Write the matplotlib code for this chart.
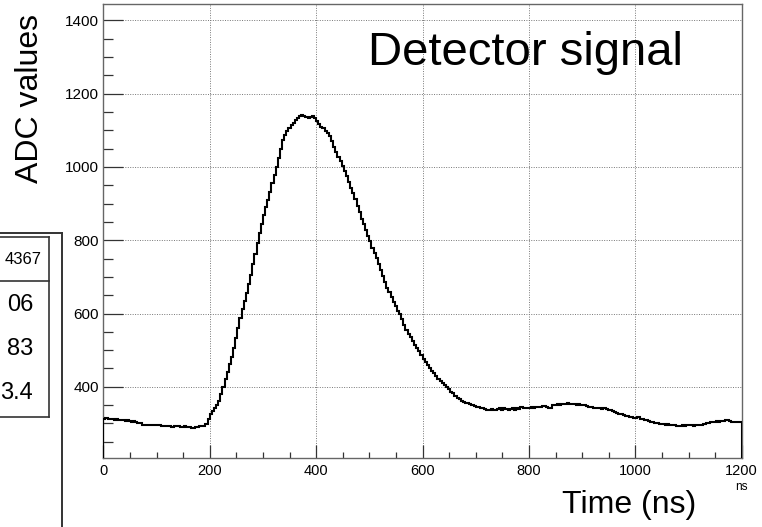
import numpy as np
import matplotlib
matplotlib.use("Agg")
import matplotlib.pyplot as plt
from matplotlib.ticker import MultipleLocator, FixedLocator
from matplotlib.lines import Line2D

# ---------------- data ----------------
adc_values = [
    313, 314, 312, 311, 312, 310, 311, 309, 310, 308,
    307, 308, 306, 305, 306, 303, 302, 300, 296, 297,
    295, 296, 297, 296, 297, 295, 296, 294, 293, 294,
    292, 293, 291, 294, 293, 292, 291, 290, 292, 290,
    289, 287, 288, 290, 291, 292, 292, 294, 299, 313,
    327, 335, 341, 350, 362, 380, 400, 420, 441, 461,
    481, 505, 532, 560, 588, 612, 633, 656, 680, 705,
    735, 763, 793, 820, 845, 868, 890, 910, 932, 955,
    978, 1000, 1025, 1050, 1073, 1088, 1098, 1106, 1114, 1120,
    1128, 1135, 1140, 1141, 1139, 1137, 1135, 1136, 1139, 1133,
    1125, 1117, 1110, 1105, 1099, 1093, 1084, 1070, 1055, 1040,
    1028, 1015, 1002, 990, 975, 958, 943, 928, 912, 893,
    876, 858, 843, 828, 812, 797, 780, 764, 752, 735,
    720, 702, 686, 670, 658, 645, 632, 620, 608, 598,
    585, 568, 555, 545, 535, 524, 514, 506, 497, 487,
    477, 468, 460, 452, 444, 438, 430, 422, 416, 410,
    405, 399, 393, 387, 382, 376, 370, 366, 362, 359,
    357, 356, 354, 351, 348, 346, 344, 342, 341, 339,
    338, 337, 339, 337, 338, 340, 341, 338, 343, 340,
    336, 339, 341, 338, 342, 339, 344, 341, 343, 342,
    343, 344, 342, 345, 346, 345, 348, 347, 346, 341,
    342, 350, 351, 352, 350, 353, 352, 354, 355, 354,
    352, 353, 351, 352, 350, 349, 350, 348, 345, 344,
    343, 342, 343, 341, 340, 341, 339, 338, 336, 334,
    332, 329, 327, 326, 323, 321, 319, 318, 317, 316,
    314, 318, 313, 311, 310, 308, 306, 304, 303, 302,
    300, 299, 298, 299, 297, 298, 296, 297, 295, 294,
    294, 293, 295, 294, 296, 295, 297, 294, 296, 297,
    296, 295, 298, 300, 301, 303, 305, 304, 306, 305,
    307, 306, 308, 309, 306, 304, 305, 303, 304, 303,
]
time_range = (0, 1200)
y_range = (207, 1444)
x_tick_values = [0, 200, 400, 600, 800, 1000, 1200]
y_tick_values = [400, 600, 800, 1000, 1200, 1400]
stats_header = "4367"
stats_values = ["06", "83", "3.4"]

title_text = "Detector signal"
x_title = "Time (ns)"
y_title = "ADC values"
x_unit = "ns"

# ---------------- figure ----------------
W, H = 762, 527
plt.rcParams['font.family'] = ['Liberation Sans', 'DejaVu Sans']
fig = plt.figure(figsize=(W / 100, H / 100), dpi=100)

def fx(px):
    return px / W

def fy(py):
    return 1 - py / H

ax_l, ax_r, ax_t, ax_b = 103.3, 741.7, 4.3, 457.5
ax = fig.add_axes([fx(ax_l), fy(ax_b), fx(ax_r - ax_l), (ax_b - ax_t) / H])

edges = np.linspace(time_range[0], time_range[1], len(adc_values) + 1)
ax.stairs(adc_values, edges, color='black', lw=1.5, zorder=3)

ax.set_xlim(*time_range)
ax.set_ylim(*y_range)

ax.xaxis.set_major_locator(FixedLocator(x_tick_values))
ax.yaxis.set_major_locator(FixedLocator(y_tick_values))
ax.xaxis.set_minor_locator(MultipleLocator(50))
ax.yaxis.set_minor_locator(MultipleLocator(50))

ax.set_xticklabels([str(v) for v in x_tick_values], fontsize=10.5)
ax.set_yticklabels([str(v) for v in y_tick_values], fontsize=11)

ax.tick_params(axis='y', which='major', direction='in', length=14.4, width=0.9,
               color='#333333', pad=3, left=True, right=False)
ax.tick_params(axis='y', which='minor', direction='in', length=7.2, width=0.9,
               color='#333333', left=True, right=False)
ax.tick_params(axis='x', which='major', direction='in', length=9.4, width=0.9,
               color='#333333', pad=5, bottom=True, top=False)
ax.tick_params(axis='x', which='minor', direction='in', length=4.3, width=0.9,
               color='#333333', bottom=True, top=False)

ax.grid(True, which='major', color='#777777', linestyle=(0, (1, 1.5)), lw=0.7, zorder=1)
for s in ax.spines.values():
    s.set_color('#666666')
    s.set_linewidth(1.0)

# titles
fig.text(fx(368), fy(65), title_text, fontsize=34, ha='left', va='baseline')
fig.text(fx(696), fy(505), x_title, fontsize=23, ha='right', va='center')
fig.text(fx(30), fy(14), y_title, fontsize=23, rotation=90, ha='center', va='top')
fig.text(fx(741), fy(487), x_unit, fontsize=8.5, ha='center', va='center',
         family=['Liberation Sans Narrow', 'Liberation Sans', 'DejaVu Sans'])

# stats box (partially outside the canvas)
box_col = '#333333'
fig.add_artist(Line2D([fx(0), fx(62)], [fy(232.7), fy(232.7)], color=box_col, lw=1.4,
                      transform=fig.transFigure))
fig.add_artist(Line2D([fx(62), fx(62)], [fy(232.7), fy(527)], color=box_col, lw=1.4,
                      transform=fig.transFigure))
for (x0, y0, x1, y1) in [(0, 237.3, 49, 237.3), (49, 237.3, 49, 416.7),
                         (0, 416.7, 49, 416.7), (0, 281, 49, 281)]:
    fig.add_artist(Line2D([fx(x0), fx(x1)], [fy(y0), fy(y1)], color=box_col, lw=1.2,
                          transform=fig.transFigure))
fig.text(fx(41.7), fy(259), stats_header, fontsize=12, ha='right', va='center')
for i, val in enumerate(stats_values):
    fig.text(fx(33), fy(305 + 44 * i), val, fontsize=17, ha='right', va='center')

fig.savefig('out.png', dpi=100)
